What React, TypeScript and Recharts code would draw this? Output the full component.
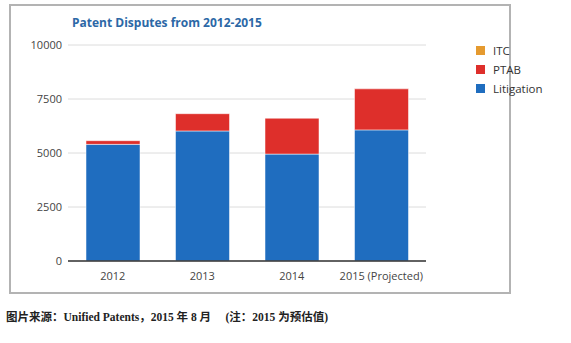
import { FC } from "react";
import { BarChart, Bar, XAxis, YAxis, CartesianGrid } from "recharts";

const years = ["2012", "2013", "2014", "2015 (Projected)"];
const litigation = [5400, 6020, 4950, 6070];
const ptab = [170, 800, 1660, 1900];
const itc = [0, 0, 0, 0];
const yTicks = [0, 2500, 5000, 7500, 10000];

const series = [
    { key: "itc", name: "ITC", color: "#E59A2F" },
    { key: "ptab", name: "PTAB", color: "#DE2F2B" },
    { key: "litigation", name: "Litigation", color: "#1F6DBF" },
];

const data = years.map((year, i) => ({
    year,
    litigation: litigation[i],
    ptab: ptab[i],
    itc: itc[i],
}));

const tickStyle = { fontSize: 11, fill: "#444", fontFamily: "'Open Sans', 'Noto Sans', sans-serif" };

const App: FC = () => {
    return (
        <div style={{ position: "absolute", left: 0, top: 0, width: 571, height: 343, background: "#fff", overflow: "hidden" }}>
            <div style={{ position: "absolute", left: 9, top: 4, width: 502, height: 290, border: "2px solid #b3b3b3", boxSizing: "border-box" }} />
            <div style={{ position: "absolute", left: 72, top: 14, fontFamily: "'Open Sans', sans-serif", fontWeight: 700, fontSize: 12, color: "#2C68A6" }}>
                Patent Disputes from 2012-2015
            </div>
            <div style={{ position: "absolute", left: 0, top: 0 }}>
                <BarChart width={440} height={300} data={data} margin={{ top: 45, right: 14, bottom: 9, left: 8 }}>
                    <CartesianGrid vertical={false} stroke="#dcdcdc" />
                    <XAxis dataKey="year" tick={tickStyle} tickLine={false} tickSize={0} tickMargin={11} height={30} axisLine={{ stroke: "#333", strokeWidth: 1.5 }} />
                    <YAxis domain={[0, 10000]} ticks={yTicks} tick={tickStyle} tickLine={false} axisLine={false} tickSize={0} tickMargin={6} width={60} />
                    <Bar dataKey="litigation" name="Litigation" stackId="a" fill="#1F6DBF" barSize={54} stroke="#fff" strokeOpacity={0.5} isAnimationActive={false} />
                    <Bar dataKey="ptab" name="PTAB" stackId="a" fill="#DE2F2B" barSize={54} stroke="#fff" strokeOpacity={0.5} isAnimationActive={false} />
                    <Bar dataKey="itc" name="ITC" stackId="a" fill="#E59A2F" barSize={54} isAnimationActive={false} />
                </BarChart>
            </div>
            {series.map((s, i) => (
                <div key={s.key} style={{ position: "absolute", left: 476, top: 44 + i * 19, height: 13, display: "flex", alignItems: "center", fontFamily: "'Open Sans', sans-serif", fontSize: 11.5, color: "#333" }}>
                    <span style={{ display: "inline-block", width: 9, height: 9, background: s.color, marginRight: 8 }} />
                    {s.name}
                </div>
            ))}
            <div style={{ position: "absolute", left: 6, top: 308, fontFamily: "'Liberation Serif', 'Noto Sans CJK SC', serif", fontWeight: 700, fontSize: 11.5, color: "#222", whiteSpace: "pre" }}>
                {"图片来源：Unified Patents，2015 年 8 月     (注：2015 为预估值)"}
            </div>
        </div>
    );
};

export default App;
